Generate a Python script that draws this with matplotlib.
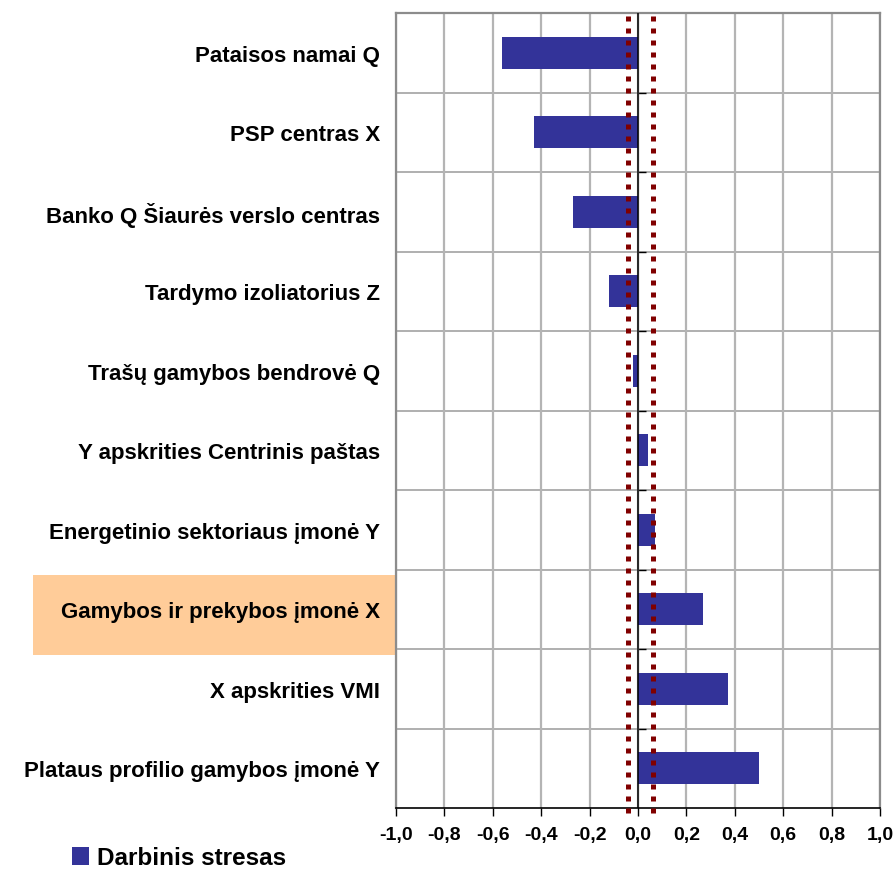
import matplotlib.pyplot as plt
from matplotlib.patches import Rectangle, Patch
from matplotlib.transforms import blended_transform_factory
from matplotlib.ticker import FuncFormatter

plt.rcParams['font.family'] = ['Liberation Sans', 'DejaVu Sans']
plt.rcParams['font.weight'] = 'bold'

# organisations, top to bottom
orgs = [
    'Pataisos namai Q',
    'PSP centras X',
    'Banko Q Šiaurės verslo centras',
    'Tardymo izoliatorius Z',
    'Trašų gamybos bendrovė Q',
    'Y apskrities Centrinis paštas',
    'Energetinio sektoriaus įmonė Y',
    'Gamybos ir prekybos įmonė X',
    'X apskrities VMI',
    'Plataus profilio gamybos įmonė Y',
]
stress = [-0.56, -0.43, -0.27, -0.12, -0.02, 0.04, 0.07, 0.27, 0.37, 0.50]
band_low, band_high = -0.04, 0.06
highlight = 'Gamybos ir prekybos įmonė X'
series_name = 'Darbinis stresas'

bar_color = '#333399'
limit_color = '#800000'

fig = plt.figure(figsize=(8.95, 8.70), dpi=100)
ax = fig.add_axes([396 / 895, 1 - 809 / 870, 484 / 895, 795 / 870])

y = list(range(len(orgs)))
ax.barh(y, stress, height=0.4, color=bar_color, zorder=3)
ax.set_ylim(len(orgs) - 0.5, -0.5)
ax.set_xlim(-1, 1)

# grid: vertical at x ticks, horizontal at category boundaries
xt = [round(-1 + 0.2 * i, 1) for i in range(11)]
ax.set_xticks(xt)
ax.xaxis.set_major_formatter(FuncFormatter(lambda v, p: f'{v:.1f}'.replace('.', ',').replace('-0,0', '0,0')))
ax.tick_params(axis='x', direction='out', length=6, width=1, color='black',
               labelsize=14, pad=7)
ax.grid(axis='x', color='#b4b4b4', lw=1.6, zorder=0)
for b in range(1, len(orgs)):
    ax.axhline(b - 0.5, color='#9a9a9a', lw=1.1, zorder=0)

ax.set_yticks(y)
ax.set_yticklabels(orgs, fontsize=16)
ax.tick_params(axis='y', length=0, pad=11.5)

for side in ['top', 'left', 'right']:
    ax.spines[side].set_color('#8c8c8c')
    ax.spines[side].set_linewidth(1.6)
ax.spines['bottom'].set_color('black')
ax.spines['bottom'].set_linewidth(1.2)

# zero axis with small boundary ticks
ax.axvline(0, color='black', lw=1.1, zorder=4)
sec = ax.secondary_yaxis(0.5)
sec.set_yticks([b - 0.5 for b in range(1, len(orgs))])
sec.set_yticklabels([])
sec.tick_params(axis='y', direction='out', length=6, width=1, color='black')
sec.spines['left'].set_visible(False)

# tolerance limits
for v in (band_low, band_high):
    ax.axvline(v, ymin=-0.006, ymax=1, color=limit_color, lw=3.6,
               linestyle=(0, (1, 1.4)), zorder=5, clip_on=False)

# highlighted organisation label
hi = orgs.index(highlight)
tr = blended_transform_factory(ax.transAxes, ax.transData)
ax.add_patch(Rectangle((-0.75, hi - 0.43), 0.75, 1.0, transform=tr,
                       facecolor='#ffcc99', edgecolor='none', clip_on=False, zorder=-1))

fig.legend(handles=[Patch(facecolor=bar_color, label=series_name)],
           loc='center left', bbox_to_anchor=(72 / 895, 1 - 859 / 870), frameon=False,
           borderpad=0, borderaxespad=0,
           handlelength=0.72, handleheight=0.72, handletextpad=0.3,
           prop={'weight': 'bold', 'size': 17.5})

fig.savefig('out.png', dpi=100)
